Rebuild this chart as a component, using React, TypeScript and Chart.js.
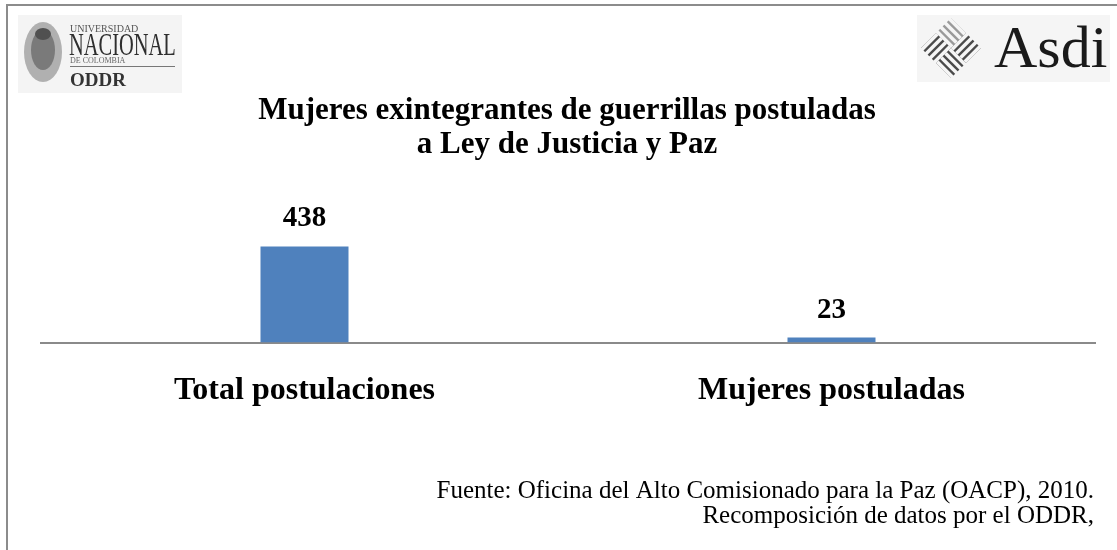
import React, { useEffect, useRef } from "react";
import { Chart, registerables } from "chart.js";

Chart.register(...registerables);

const categories = ["Total postulaciones", "Mujeres postuladas"];
const values = [438, 23];
const titleLines = ["Mujeres exintegrantes de guerrillas postuladas", "a Ley de Justicia y Paz"];
const sourceLines = [
  "Fuente: Oficina del Alto Comisionado para la Paz (OACP), 2010.",
  "Recomposición de datos por el ODDR,",
];
const SERIF = '"Liberation Serif", "DejaVu Serif", serif';

function drawAsdiMark(ctx: CanvasRenderingContext2D, cx: number, cy: number, h: number) {
  const sub = h / 2;
  const centers = [
    [cx, cy - sub, 0],
    [cx + sub, cy, 1],
    [cx, cy + sub, 0],
    [cx - sub, cy, 1],
  ];
  centers.forEach(([x, y, dir], idx) => {
    ctx.save();
    ctx.beginPath();
    ctx.moveTo(x, y - sub);
    ctx.lineTo(x + sub, y);
    ctx.lineTo(x, y + sub);
    ctx.lineTo(x - sub, y);
    ctx.closePath();
    ctx.clip();
    ctx.strokeStyle = idx === 0 ? "#9a9a9a" : "#4a4a4a";
    ctx.lineWidth = 2.4;
    for (let k = -6; k <= 6; k++) {
      const off = k * 4.2;
      ctx.beginPath();
      if (dir === 0) {
        ctx.moveTo(x - 30 + off, y - 30 - off);
        ctx.lineTo(x + 30 + off, y + 30 - off);
      } else {
        ctx.moveTo(x - 30 + off, y + 30 + off);
        ctx.lineTo(x + 30 + off, y - 30 + off);
      }
      ctx.stroke();
    }
    ctx.restore();
  });
}

const decorPlugin = {
  id: "decor",
  afterDraw(chart: any) {
    const ctx = chart.ctx as CanvasRenderingContext2D;
    ctx.save();
    // frame
    ctx.strokeStyle = "#8c8c8c";
    ctx.lineWidth = 2;
    ctx.beginPath();
    ctx.moveTo(7, 550);
    ctx.lineTo(7, 5);
    ctx.lineTo(1117, 5);
    ctx.stroke();

    // left logo
    ctx.fillStyle = "#f4f4f4";
    ctx.fillRect(18, 15, 164, 78);
    ctx.fillStyle = "#b0b0b0";
    ctx.beginPath();
    ctx.ellipse(43, 52, 19, 30, 0, 0, Math.PI * 2);
    ctx.fill();
    ctx.fillStyle = "#7a7a7a";
    ctx.beginPath();
    ctx.ellipse(43, 50, 12, 20, 0, 0, Math.PI * 2);
    ctx.fill();
    ctx.fillStyle = "#505050";
    ctx.beginPath();
    ctx.ellipse(43, 34, 8, 6, 0, 0, Math.PI * 2);
    ctx.fill();
    ctx.textAlign = "left";
    ctx.textBaseline = "alphabetic";
    ctx.fillStyle = "#555";
    ctx.font = `10px ${SERIF}`;
    ctx.fillText("UNIVERSIDAD", 70, 32);
    ctx.save();
    ctx.translate(69, 55);
    ctx.scale(0.66, 1);
    ctx.font = `31px ${SERIF}`;
    ctx.fillStyle = "#2e2e2e";
    ctx.fillText("NACIONAL", 0, 0);
    ctx.restore();
    ctx.font = `8px ${SERIF}`;
    ctx.fillStyle = "#666";
    ctx.fillText("DE COLOMBIA", 70, 63);
    ctx.fillStyle = "#777";
    ctx.fillRect(70, 66, 105, 1);
    ctx.font = `bold 19px ${SERIF}`;
    ctx.fillStyle = "#333";
    ctx.fillText("ODDR", 70, 86);

    // right logo
    ctx.fillStyle = "#f5f5f5";
    ctx.fillRect(917, 15, 193, 67);
    drawAsdiMark(ctx, 951, 48, 30);
    ctx.fillStyle = "#1a1a1a";
    ctx.font = `60px ${SERIF}`;
    ctx.fillText("Asdi", 994, 67);

    // title
    ctx.fillStyle = "#000";
    ctx.textAlign = "center";
    ctx.font = `bold 31px ${SERIF}`;
    ctx.fillText(titleLines[0], 567, 119);
    ctx.fillText(titleLines[1], 567, 153);

    // data labels
    const meta = chart.getDatasetMeta(0);
    ctx.font = `bold 29px ${SERIF}`;
    meta.data.forEach((bar: any, i: number) => {
      ctx.fillText(String(values[i]), bar.x, bar.y - 20);
    });

    // source
    ctx.textAlign = "right";
    ctx.font = `25px ${SERIF}`;
    ctx.fillText(sourceLines[0], 1094, 498);
    ctx.fillText(sourceLines[1], 1094, 523);
    ctx.restore();
  },
};

export default function App() {
  const ref = useRef<HTMLCanvasElement>(null);
  useEffect(() => {
    document.body.style.margin = "0";
    const chart = new Chart(ref.current!, {
      type: "bar",
      data: {
        labels: categories,
        datasets: [
          {
            data: values,
            backgroundColor: "#4F81BD",
            borderWidth: 0,
            barPercentage: 0.167,
            categoryPercentage: 1,
          },
        ],
      },
      options: {
        animation: false,
        responsive: false,
        events: [],
        layout: { padding: { left: 41, right: 22, top: 123, bottom: 111 } },
        plugins: { legend: { display: false }, tooltip: { enabled: false }, title: { display: false } },
        scales: {
          x: {
            grid: { display: false, drawTicks: false },
            border: { display: true, color: "#8a8a8a", width: 2 },
            ticks: {
              color: "#000",
              padding: 29,
              font: { family: SERIF, size: 32, weight: "bold" },
              maxRotation: 0,
            },
          },
          y: { display: false, min: 0, max: 1000 },
        },
      },
      plugins: [decorPlugin],
    });
    return () => chart.destroy();
  }, []);
  return (
    <div style={{ width: 1117, height: 550, background: "#fff" }}>
      <canvas ref={ref} width={1117} height={550} style={{ display: "block" }} />
    </div>
  );
}
